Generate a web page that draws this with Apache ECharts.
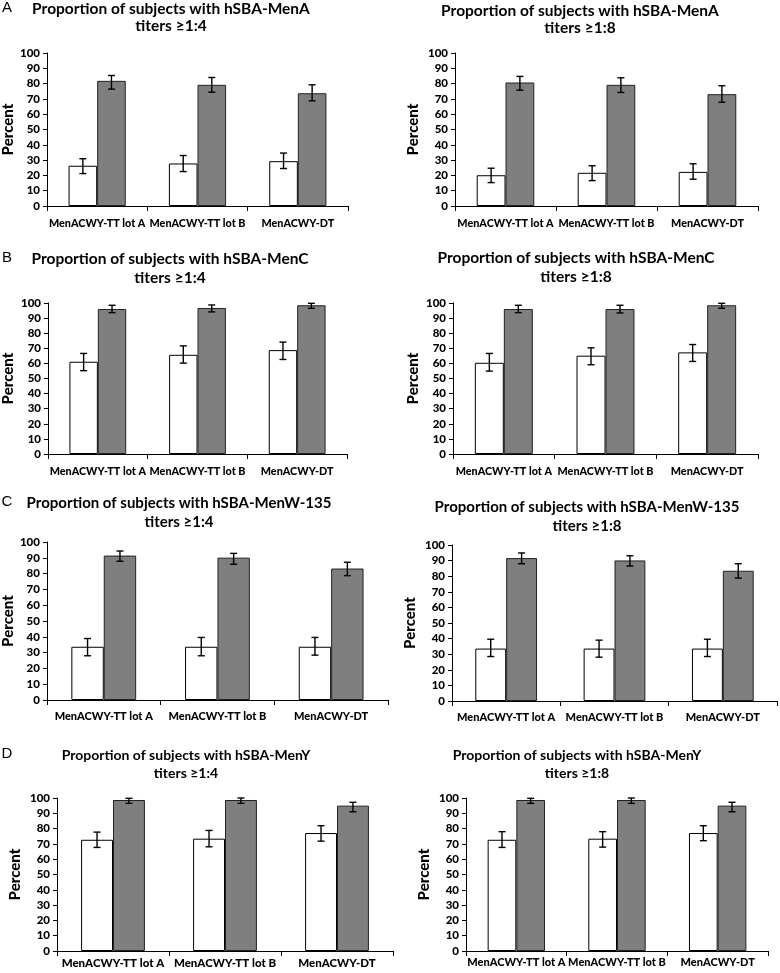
<!DOCTYPE html>
<html>
<head>
<meta charset="utf-8">
<script src="https://cdn.jsdelivr.net/npm/echarts@6/dist/echarts.min.js"></script>
<style>html,body{margin:0;padding:0;background:#fff;}#c{width:780px;height:973px;}</style>
</head>
<body>
<div id="c"></div>
<script>
// ---------- data ----------
const categories = ['MenACWY-TT lot A', 'MenACWY-TT lot B', 'MenACWY-DT'];
const panelTitles = [
  'Proportion of subjects with hSBA-MenA', 'Proportion of subjects with hSBA-MenA',
  'Proportion of subjects with hSBA-MenC', 'Proportion of subjects with hSBA-MenC',
  'Proportion of subjects with hSBA-MenW-135', 'Proportion of subjects with hSBA-MenW-135',
  'Proportion of subjects with hSBA-MenY', 'Proportion of subjects with hSBA-MenY'
];
const panelSubtitles = ['titers ≥1:4', 'titers ≥1:8', 'titers ≥1:4', 'titers ≥1:8',
  'titers ≥1:4', 'titers ≥1:8', 'titers ≥1:4', 'titers ≥1:8'];
const panelLetters = ['A', '', 'B', '', 'C', '', 'D', ''];
const yAxisName = 'Percent';

// MenA 1:4
const menA4White = [26.3, 27.8, 29.3], menA4WhiteLo = [21.2, 22.5, 24.5], menA4WhiteHi = [30.9, 33.0, 34.6];
const menA4Grey = [81.8, 79.2, 73.7], menA4GreyLo = [76.4, 74.4, 68.7], menA4GreyHi = [85.3, 84.0, 79.2];
// MenA 1:8
const menA8White = [20.1, 21.7, 22.3], menA8WhiteLo = [15.3, 16.6, 17.5], menA8WhiteHi = [24.7, 26.3, 27.6];
const menA8Grey = [80.7, 79.2, 73.1], menA8GreyLo = [75.7, 74.2, 67.8], menA8GreyHi = [84.7, 83.8, 78.6];
// MenC 1:4
const menC4White = [61.1, 65.7, 68.8], menC4WhiteLo = [55.2, 60.2, 62.6], menC4WhiteHi = [66.6, 71.6, 74.1];
const menC4Grey = [96.0, 96.7, 98.5], menC4GreyLo = [93.6, 94.1, 96.5], menC4GreyHi = [98.5, 98.7, 99.8];
// MenC 1:8
const menC8White = [60.4, 65.1, 67.3], menC8WhiteLo = [54.9, 59.1, 61.3], menC8WhiteHi = [66.6, 70.3, 72.5];
const menC8Grey = [96.0, 96.0, 98.5], menC8GreyLo = [93.6, 93.4, 96.5], menC8GreyHi = [98.5, 98.5, 99.8];
// MenW-135 1:4
const menW4White = [33.7, 33.7, 33.7], menW4WhiteLo = [28.0, 28.0, 28.4], menW4WhiteHi = [38.9, 39.6, 39.6];
const menW4Grey = [91.4, 90.1, 83.2], menW4GreyLo = [87.8, 85.9, 78.7], menW4GreyHi = [94.3, 92.8, 87.2];
// MenW-135 1:8
const menW8White = [33.6, 33.6, 33.6], menW8WhiteLo = [28.5, 28.1, 28.5], menW8WhiteHi = [39.6, 39.0, 39.6];
const menW8Grey = [91.6, 90.1, 83.5], menW8GreyLo = [88.0, 86.5, 78.8], menW8GreyHi = [94.9, 93.1, 88.0];
// MenY 1:4
const menY4White = [72.7, 73.4, 77.1], menY4WhiteLo = [67.7, 68.1, 71.8], menY4WhiteHi = [77.7, 78.8, 81.9];
const menY4Grey = [98.7, 98.7, 95.0], menY4GreyLo = [96.5, 96.5, 91.0], menY4GreyHi = [99.8, 100.0, 97.2];
// MenY 1:8
const menY8White = [72.7, 73.4, 77.1], menY8WhiteLo = [67.7, 67.9, 72.1], menY8WhiteHi = [78.0, 78.0, 81.9];
const menY8Grey = [98.7, 98.7, 95.0], menY8GreyLo = [96.5, 96.5, 91.0], menY8GreyHi = [99.8, 100.0, 97.2];

const panelData = [
  [menA4White, menA4WhiteLo, menA4WhiteHi, menA4Grey, menA4GreyLo, menA4GreyHi],
  [menA8White, menA8WhiteLo, menA8WhiteHi, menA8Grey, menA8GreyLo, menA8GreyHi],
  [menC4White, menC4WhiteLo, menC4WhiteHi, menC4Grey, menC4GreyLo, menC4GreyHi],
  [menC8White, menC8WhiteLo, menC8WhiteHi, menC8Grey, menC8GreyLo, menC8GreyHi],
  [menW4White, menW4WhiteLo, menW4WhiteHi, menW4Grey, menW4GreyLo, menW4GreyHi],
  [menW8White, menW8WhiteLo, menW8WhiteHi, menW8Grey, menW8GreyLo, menW8GreyHi],
  [menY4White, menY4WhiteLo, menY4WhiteHi, menY4Grey, menY4GreyLo, menY4GreyHi],
  [menY8White, menY8WhiteLo, menY8WhiteHi, menY8Grey, menY8GreyLo, menY8GreyHi]
];

// ---------- layout (positions only) ----------
const layout = [
  {left: 45,  top: 53,  width: 303, height: 153, nameGap: 31, tx: 171, t1: 9,   t2: 26,  tf: 15.5, lf: 10.8, lm: 12},
  {left: 455, top: 53,  width: 303, height: 153, nameGap: 34, tx: 580, t1: 11,  t2: 28,  tf: 15.5, lf: 10.8, lm: 12},
  {left: 43,  top: 303, width: 304, height: 151, nameGap: 32, tx: 170, t1: 259, t2: 278, tf: 15.5, lf: 10.8, lm: 12},
  {left: 453, top: 303, width: 305, height: 151, nameGap: 32, tx: 576, t1: 258, t2: 277, tf: 15.5, lf: 10.8, lm: 12},
  {left: 43,  top: 542, width: 345, height: 158, nameGap: 28, tx: 179, t1: 503, t2: 522, tf: 15,   lf: 11,   lm: 11},
  {left: 452, top: 545, width: 325, height: 156, nameGap: 34, tx: 587, t1: 507, t2: 526, tf: 15,   lf: 11,   lm: 11},
  {left: 57,  top: 798, width: 336, height: 153, nameGap: 34, tx: 186, t1: 755, t2: 773, tf: 14,   lf: 11.5, lm: 6},
  {left: 466, top: 798, width: 302, height: 153, nameGap: 34, tx: 577, t1: 755, t2: 773, tf: 14,   lf: 11,   lm: 6}
];

const FONT = 'Lato, "Open Sans", sans-serif';
const HALF_OFFSET = 0.1425; // bar centre offset as fraction of category width

function errRender(sign) {
  return function (params, api) {
    const xi = api.value(0);
    const lo = api.coord([xi, api.value(1)]);
    const hi = api.coord([xi, api.value(2)]);
    const cw = api.size([1, 0])[0];
    const cx = lo[0] + sign * cw * HALF_OFFSET;
    const cap = 3.5;
    const st = {stroke: '#000', lineWidth: 1.4};
    return {
      type: 'group',
      children: [
        {type: 'line', shape: {x1: cx, y1: lo[1], x2: cx, y2: hi[1]}, style: st},
        {type: 'line', shape: {x1: cx - cap, y1: lo[1], x2: cx + cap, y2: lo[1]}, style: st},
        {type: 'line', shape: {x1: cx - cap, y1: hi[1], x2: cx + cap, y2: hi[1]}, style: st}
      ]
    };
  };
}

const grids = [], xAxes = [], yAxes = [], series = [], graphics = [];
layout.forEach((L, i) => {
  grids.push({left: L.left, top: L.top, width: L.width, height: L.height, containLabel: false});
  xAxes.push({
    type: 'category', gridIndex: i, data: categories,
    axisLine: {lineStyle: {color: '#000', width: 1}},
    axisTick: {show: true, alignWithLabel: false, length: 5, lineStyle: {color: '#000'}},
    axisLabel: {interval: 0, color: '#000', fontWeight: 900, fontFamily: FONT, fontSize: L.lf, margin: L.lm, hideOverlap: false},
    splitLine: {show: false}
  });
  yAxes.push({
    type: 'value', gridIndex: i, min: 0, max: 100, interval: 10,
    name: yAxisName, nameLocation: 'middle', nameGap: L.nameGap, nameRotate: 90,
    nameTextStyle: {color: '#000', fontWeight: 900, fontFamily: FONT, fontSize: 15},
    axisLine: {show: true, lineStyle: {color: '#000', width: 1}},
    axisTick: {show: true, length: 4, lineStyle: {color: '#000'}},
    axisLabel: {color: '#000', fontWeight: 900, fontFamily: FONT, fontSize: 11.5, margin: 7},
    splitLine: {show: false}
  });
  const d = panelData[i];
  series.push({
    type: 'bar', xAxisIndex: i, yAxisIndex: i, data: d[0],
    barGap: '0%', barCategoryGap: '43%',
    itemStyle: {color: '#ffffff', borderColor: '#000', borderWidth: 1},
    silent: true
  });
  series.push({
    type: 'bar', xAxisIndex: i, yAxisIndex: i, data: d[3],
    barGap: '0%', barCategoryGap: '43%',
    itemStyle: {color: '#7f7f7f', borderColor: '#222', borderWidth: 1},
    silent: true
  });
  series.push({
    type: 'custom', xAxisIndex: i, yAxisIndex: i, renderItem: errRender(-1),
    encode: {x: 0, y: [1, 2]}, z: 5, silent: true,
    data: categories.map((c, k) => [k, d[1][k], d[2][k]])
  });
  series.push({
    type: 'custom', xAxisIndex: i, yAxisIndex: i, renderItem: errRender(1),
    encode: {x: 0, y: [1, 2]}, z: 5, silent: true,
    data: categories.map((c, k) => [k, d[4][k], d[5][k]])
  });
  graphics.push({
    type: 'text', x: L.tx, y: L.t1,
    style: {text: panelTitles[i], textAlign: 'center', textVerticalAlign: 'middle',
      font: 'bold ' + L.tf + 'px ' + FONT, fill: '#000'}
  });
  graphics.push({
    type: 'text', x: L.tx, y: L.t2,
    style: {text: panelSubtitles[i], textAlign: 'center', textVerticalAlign: 'middle',
      font: 'bold ' + L.tf + 'px ' + FONT, fill: '#000'}
  });
  if (panelLetters[i]) {
    graphics.push({
      type: 'text', x: 7, y: L.t1 - 1,
      style: {text: panelLetters[i], textAlign: 'center', textVerticalAlign: 'middle',
        font: '15px "Liberation Sans", Arial, sans-serif', fill: '#000'}
    });
  }
});

const chart = echarts.init(document.getElementById('c'), null, {renderer: 'canvas'});
chart.setOption({
  animation: false,
  backgroundColor: '#fff',
  grid: grids, xAxis: xAxes, yAxis: yAxes, series: series,
  graphic: graphics
});
</script>
</body>
</html>
